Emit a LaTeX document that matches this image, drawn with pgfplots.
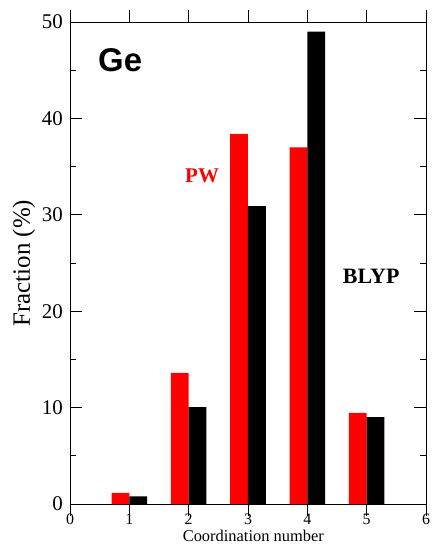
\documentclass[border=0pt]{standalone}
\usepackage{fontspec}
\setmainfont{Liberation Serif}
\newfontfamily\arialfont{Liberation Sans}
\usepackage{pgfplots}
\pgfplotsset{compat=1.18}
\begin{document}
\begin{tikzpicture}
\begin{axis}[
  scale only axis,
  width=356bp, height=482bp,
  xmin=0, xmax=6, ymin=0, ymax=50,
  xtick={0,1,2,3,4,5,6},
  ytick={0,10,20,30,40,50},
  minor ytick={5,15,25,35,45},
  tick align=inside,
  major tick length=12bp,
  minor tick length=6bp,
  axis line style={line width=0.8pt},
  every tick/.style={line width=0.8pt, black},
  xticklabel={\rmfamily\pgfmathprintnumber[assume math mode=true]{\tick}},
  yticklabel={\rmfamily\pgfmathprintnumber[assume math mode=true]{\tick}},
  xticklabel style={font=\fontsize{16}{19}\selectfont, anchor=north, inner sep=0pt, yshift=2bp},
  yticklabel style={font=\fontsize{21}{25}\selectfont, anchor=east, inner sep=0pt, xshift=-7bp},
  clip=false,
  ybar,
  bar width=0.3,
]
\addplot[fill=red, draw=none, bar shift=-0.15] coordinates {(1,1.15) (2,13.6) (3,38.4) (4,37.0) (5,9.45)};
\addplot[fill=black, draw=none, bar shift=0.15] coordinates {(1,0.8) (2,10.05) (3,30.9) (4,49.0) (5,9.0)};
\node[anchor=base west, inner sep=0, font=\arialfont\bfseries\fontsize{33}{40}\selectfont] at (axis cs:0.472,44.9) {Ge};
\node[anchor=base, inner sep=0, text=red, font=\bfseries\fontsize{21}{25}\selectfont] at (axis cs:2.226,33.3) {PW};
\node[anchor=base, inner sep=0, font=\bfseries\fontsize{22}{26}\selectfont] at (axis cs:5.076,22.9) {BLYP};
\node[anchor=base, inner sep=0, font=\fontsize{16.5}{20}\selectfont] at (axis cs:3.09,-3.84) {Coordination number};
\node[anchor=base, inner sep=0, rotate=90, font=\fontsize{25}{30}\selectfont] at (axis cs:-0.675,25) {Fraction (\%)};
\coordinate (sw) at (rel axis cs:0,0);
\coordinate (ne) at (rel axis cs:1,1);
\end{axis}
\pgfresetboundingbox
\path[use as bounding box] ([xshift=-70bp,yshift=-40bp]sw) rectangle ([xshift=6bp,yshift=22bp]ne);
\end{tikzpicture}
\end{document}
